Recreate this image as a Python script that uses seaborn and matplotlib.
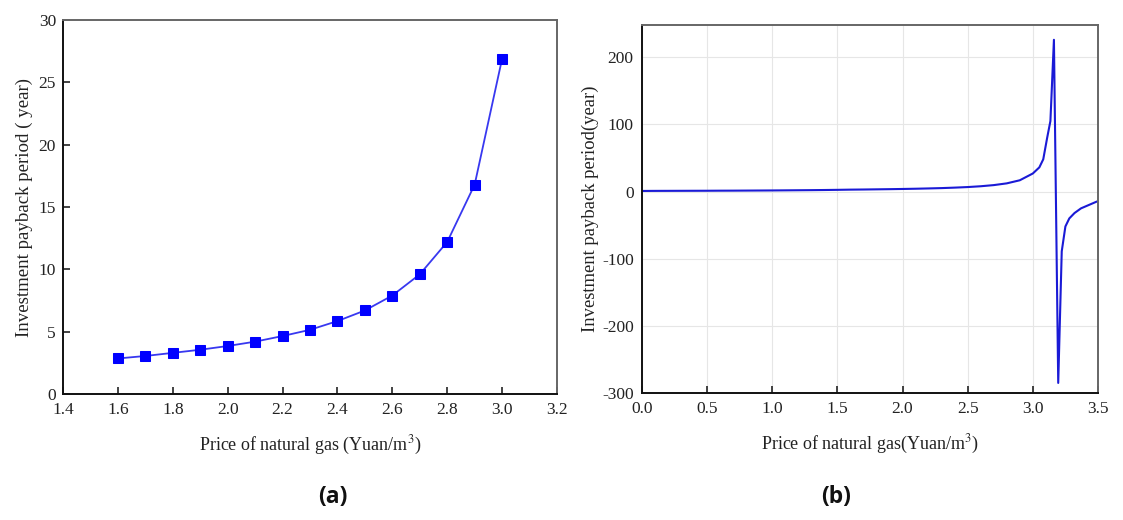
import matplotlib
matplotlib.use("Agg")
import matplotlib.pyplot as plt
import seaborn as sns
import pandas as pd

# Panel (a)
price_a = [1.6, 1.7, 1.8, 1.9, 2.0, 2.1, 2.2, 2.3, 2.4, 2.5, 2.6, 2.7, 2.8, 2.9, 3.0]
payback_a = [2.85, 3.05, 3.3, 3.55, 3.85, 4.2, 4.65, 5.15, 5.85, 6.7, 7.9, 9.6, 12.2, 16.8, 26.9]

# Panel (b)
price_b = [0.0, 0.1, 0.2, 0.3, 0.4, 0.5, 0.6, 0.7, 0.8, 0.9, 1.0, 1.1, 1.2, 1.3, 1.4, 1.5,
           1.6, 1.7, 1.8, 1.9, 2.0, 2.1, 2.2, 2.3, 2.4, 2.5, 2.6, 2.7, 2.8, 2.9, 3.0,
           3.05, 3.08, 3.11, 3.135, 3.162, 3.195, 3.222, 3.25, 3.28, 3.32, 3.37, 3.43, 3.49, 3.5]
payback_b = [0.9, 1.0, 1.05, 1.1, 1.15, 1.2, 1.3, 1.35, 1.45, 1.55, 1.65, 1.8, 1.95, 2.1, 2.3, 2.55,
             2.85, 3.05, 3.3, 3.55, 3.85, 4.2, 4.65, 5.15, 5.85, 6.7, 7.9, 9.6, 12.2, 16.8, 26.9,
             36, 48, 80, 105, 226, -285, -89, -52, -40, -32, -25, -20, -15, -14.5]

xticks_a = [1.4, 1.6, 1.8, 2.0, 2.2, 2.4, 2.6, 2.8, 3.0, 3.2]
yticks_a = [0, 5, 10, 15, 20, 25, 30]
xticks_b = [0.0, 0.5, 1.0, 1.5, 2.0, 2.5, 3.0, 3.5]
yticks_b = [-300, -200, -100, 0, 100, 200]

sns.set_theme(style="ticks")
plt.rcParams['font.family'] = ['Liberation Serif', 'DejaVu Serif']
plt.rcParams['axes.unicode_minus'] = False
plt.rcParams['mathtext.fontset'] = 'stix'

fig = plt.figure(figsize=(11.23, 5.2), dpi=100)
ax1 = fig.add_axes([0.0561, 0.2423, 0.4399, 0.7192])
ax2 = fig.add_axes([0.5717, 0.2442, 0.4060, 0.7077])

df_a = pd.DataFrame({"price": price_a, "payback": payback_a})
df_b = pd.DataFrame({"price": price_b, "payback": payback_b})

sns.lineplot(data=df_a, x="price", y="payback", ax=ax1, color="#3838f0", linewidth=1.3,
             marker="s", markersize=7, markerfacecolor="#0000ff", markeredgecolor="#0000ff")
sns.lineplot(data=df_b, x="price", y="payback", ax=ax2, color="#1a1ad6", linewidth=1.5)

tick_fs = 12.5
label_fs = 13

for ax in (ax1, ax2):
    ax.tick_params(direction="in", length=5, width=1.2, labelsize=tick_fs, colors="#222222", pad=6)
    ax.spines["left"].set_color("#111111")
    ax.spines["bottom"].set_color("#111111")
    ax.spines["left"].set_linewidth(1.4)
    ax.spines["bottom"].set_linewidth(1.4)
    ax.spines["top"].set_color("#666666")
    ax.spines["right"].set_color("#666666")
    ax.spines["top"].set_linewidth(1.4)
    ax.spines["right"].set_linewidth(1.4)

ax1.set_xlim(1.4, 3.2)
ax1.set_ylim(0, 30)
ax1.set_xticks(xticks_a)
ax1.set_xticklabels([f"{v:.1f}" for v in xticks_a])
ax1.set_yticks(yticks_a)
ax1.set_yticklabels([str(v) for v in yticks_a])
ax1.tick_params(axis="y", pad=5)
ax1.set_xlabel("Price of natural gas (Yuan/m$^3$)", fontsize=label_fs, color="#222222", labelpad=11)
ax1.set_ylabel("Investment payback period ( year)", fontsize=13.6, color="#222222", labelpad=4)

ax2.set_xlim(0.0, 3.5)
ax2.set_ylim(-300, 248)
ax2.set_xticks(xticks_b)
ax2.set_xticklabels([f"{v:.1f}" for v in xticks_b])
ax2.set_yticks(yticks_b)
ax2.set_yticklabels([str(v) for v in yticks_b])
ax2.grid(True, color="#e6e6e6", linewidth=0.8)
ax2.tick_params(axis="y", length=0)
ax2.set_xlabel("Price of natural gas(Yuan/m$^3$)", fontsize=label_fs, color="#222222", labelpad=11)
ax2.set_ylabel("Investment payback period(year)", fontsize=13.4, color="#222222", labelpad=2)

fig.text(0.2965, 0.045, "(a)", fontsize=16.5, fontweight="bold", family=["Open Sans", "DejaVu Sans"], ha="center", va="center", color="#111111")
fig.text(0.7445, 0.045, "(b)", fontsize=16.5, fontweight="bold", family=["Open Sans", "DejaVu Sans"], ha="center", va="center", color="#111111")

fig.savefig("out.png", dpi=100, facecolor="white")
